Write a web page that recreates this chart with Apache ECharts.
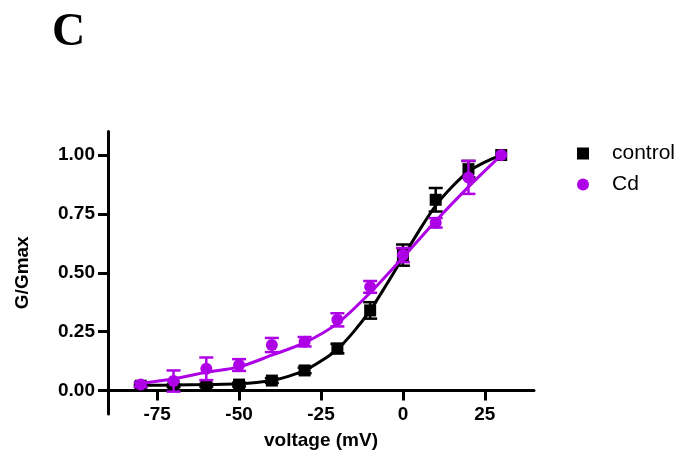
<!DOCTYPE html>
<html>
<head>
<meta charset="utf-8">
<script src="https://cdn.jsdelivr.net/npm/echarts@6/dist/echarts.min.js"></script>
<style>html,body{margin:0;padding:0;background:#fff}#c{width:685px;height:460px}</style>
</head>
<body>
<div id="c"></div>
<script>
// ---- data ----
const voltage = [-80, -70, -60, -50, -40, -30, -20, -10, 0, 10, 20, 30];
const controlG = [0.02, 0.02, 0.022, 0.025, 0.042, 0.085, 0.178, 0.34, 0.575, 0.81, 0.94, 1.0];
const controlErr = [0.005, 0.005, 0.006, 0.008, 0.01, 0.012, 0.02, 0.035, 0.045, 0.05, 0.035, 0];
const cdG = [0.025, 0.04, 0.092, 0.108, 0.193, 0.207, 0.30, 0.44, 0.575, 0.712, 0.905, 1.0];
const cdErr = [0.01, 0.045, 0.048, 0.025, 0.03, 0.02, 0.028, 0.025, 0.03, 0.02, 0.07, 0];
// fitted curves
const controlFitV = [-80, -70, -60, -50, -40, -35, -30, -25, -20, -15, -10, -5, 0, 5, 10, 15, 20, 25, 30];
const controlFitG = [0.022, 0.023, 0.025, 0.028, 0.042, 0.06, 0.085, 0.125, 0.175, 0.25, 0.34, 0.45, 0.565, 0.68, 0.785, 0.865, 0.93, 0.97, 1.0];
const cdFitV = [-80, -70, -60, -50, -40, -30, -20, -10, 0, 10, 20, 30];
const cdFitG = [0.03, 0.05, 0.077, 0.10, 0.15, 0.203, 0.285, 0.415, 0.565, 0.72, 0.865, 1.0];
const xTicks = [-75, -50, -25, 0, 25];
const yTicks = [0, 0.25, 0.5, 0.75, 1.0];
const seriesNames = ['control', 'Cd'];
const xName = 'voltage (mV)';
const yName = 'G/Gmax';
const panelLabel = 'C';

const BLACK = '#000000';
const PURPLE = '#AE00E6';
const pairs = (xs, ys) => xs.map((x, i) => [x, ys[i]]);
const errData = (xs, ys, es) => xs.map((x, i) => [x, ys[i], es[i]]);

function errRender(color) {
  return function (params, api) {
    const x = api.value(0), m = api.value(1), e = api.value(2);
    if (!e) return null;
    const top = api.coord([x, m + e]);
    const bot = api.coord([x, m - e]);
    const half = 7;
    const st = { stroke: color, lineWidth: 2.5 };
    return {
      type: 'group',
      children: [
        { type: 'line', shape: { x1: top[0], y1: top[1], x2: bot[0], y2: bot[1] }, style: st },
        { type: 'line', shape: { x1: top[0] - half, y1: top[1], x2: top[0] + half, y2: top[1] }, style: st },
        { type: 'line', shape: { x1: bot[0] - half, y1: bot[1], x2: bot[0] + half, y2: bot[1] }, style: st }
      ]
    };
  };
}

const axisFont = 'Liberation Sans, Arial, sans-serif';
const chart = echarts.init(document.getElementById('c'), null, { renderer: 'canvas' });
chart.setOption({
  animation: false,
  backgroundColor: '#fff',
  title: {
    text: panelLabel, left: 47, top: 5,
    textStyle: { fontFamily: 'Liberation Serif, Times New Roman, serif', fontWeight: 'bold', fontSize: 46, color: '#000' }
  },
  legend: {
    orient: 'vertical', left: 572, top: 138, itemWidth: 12, itemHeight: 12, itemGap: 10,
    data: [{ name: seriesNames[0], icon: 'rect' }, { name: seriesNames[1], icon: 'circle' }],
    textStyle: { fontFamily: axisFont, fontSize: 21, color: '#000', padding: [0, 0, 0, 18] }
  },
  grid: { left: 108, right: 151, top: 131.5, bottom: 46, outerBoundsMode: 'none', containLabel: false },
  xAxis: {
    type: 'value', min: -90, max: 40,
    name: xName, nameLocation: 'middle', nameGap: 17,
    nameTextStyle: { fontFamily: axisFont, fontWeight: 'bold', fontSize: 19, color: '#000' },
    axisLine: { onZero: true, lineStyle: { color: '#000', width: 3 } },
    axisTick: { show: true, length: 10, lineStyle: { color: '#000', width: 3 }, customValues: xTicks },
    axisLabel: { customValues: xTicks, margin: -9, fontFamily: axisFont, fontWeight: 'bold', fontSize: 19, color: '#000' },
    splitLine: { show: false }
  },
  yAxis: {
    type: 'value', min: -0.1, max: 1.1,
    name: yName, nameLocation: 'middle', nameGap: 76,
    nameTextStyle: { fontFamily: axisFont, fontWeight: 'bold', fontSize: 19, color: '#000' },
    axisLine: { show: true, onZero: false, lineStyle: { color: '#000', width: 3 } },
    axisTick: { show: true, length: 10, lineStyle: { color: '#000', width: 3 }, customValues: yTicks },
    axisLabel: { customValues: yTicks, margin: 13, fontFamily: axisFont, fontWeight: 'bold', fontSize: 19, color: '#000',
      formatter: v => Number(v).toFixed(2) },
    splitLine: { show: false }
  },
  series: [
    { name: 'control fit', type: 'line', data: pairs(controlFitV, controlFitG), smooth: 0.3, showSymbol: false,
      lineStyle: { color: BLACK, width: 3 }, z: 2, silent: true },
    { name: 'control err', type: 'custom', data: errData(voltage, controlG, controlErr), renderItem: errRender(BLACK), z: 3, silent: true },
    { name: seriesNames[0], type: 'scatter', data: pairs(voltage, controlG), symbol: 'rect', symbolSize: 12,
      itemStyle: { color: BLACK, opacity: 1 }, z: 4 },
    { name: 'Cd fit', type: 'line', data: pairs(cdFitV, cdFitG), smooth: 0.3, showSymbol: false,
      lineStyle: { color: PURPLE, width: 3 }, z: 5, silent: true },
    { name: 'Cd err', type: 'custom', data: errData(voltage, cdG, cdErr), renderItem: errRender(PURPLE), z: 6, silent: true },
    { name: seriesNames[1], type: 'scatter', data: pairs(voltage, cdG), symbol: 'circle', symbolSize: 12,
      itemStyle: { color: PURPLE, opacity: 1 }, z: 7 }
  ]
});
</script>
</body>
</html>
